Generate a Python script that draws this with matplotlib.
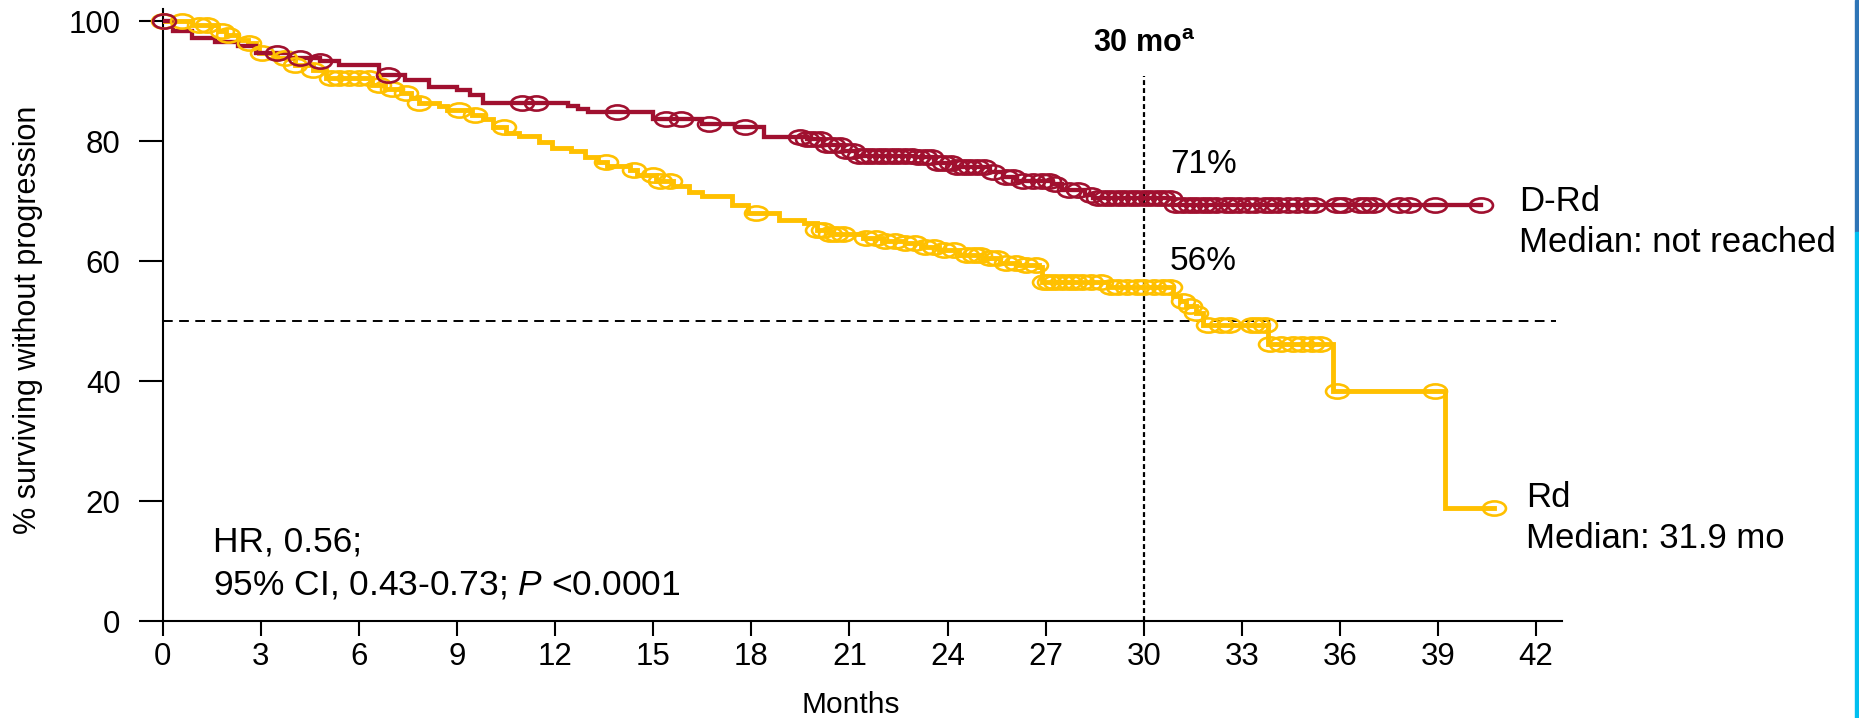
import numpy as np
import matplotlib
matplotlib.use("Agg")
import matplotlib.pyplot as plt
from matplotlib.path import Path
from matplotlib.transforms import Affine2D
from matplotlib.patches import Rectangle

plt.rcParams["font.family"] = ["Liberation Sans", "DejaVu Sans"]
plt.rcParams["mathtext.fontset"] = "custom"
plt.rcParams["mathtext.rm"] = "Liberation Sans"
plt.rcParams["mathtext.it"] = "Liberation Sans:italic"
plt.rcParams["mathtext.bf"] = "Liberation Sans:bold"

# D-Rd Kaplan-Meier steps (month of drop, survival after drop)
drd_time = [0, 0.3, 0.9, 1.6, 2.3, 2.85, 3.9, 4.8, 5.4, 6.6, 7.4, 8.15, 9.0, 9.4,
            9.8, 12.4, 12.7, 13.0, 15.0, 16.5, 17.5, 18.4, 19.7, 20.2, 20.8, 21.2,
            23.0, 23.6, 24.2, 25.3, 25.7, 26.1, 27.2, 27.5, 28.2, 28.45, 30.9]
drd_surv = [100, 98.3, 97.2, 96.5, 95.8, 94.7, 93.9, 93.3, 92.7, 91.1, 90.2, 89.1, 88.5, 87.7,
            86.3, 85.8, 85.3, 84.9, 83.7, 82.9, 82.3, 80.7, 80.3, 79.4, 78.3, 77.6,
            77.3, 76.3, 75.7, 74.9, 74.1, 73.3, 72.9, 71.9, 71.1, 70.5, 69.3]
drd_end = 40.3
drd_censor = [0.05, 3.5, 4.2, 4.8, 6.9, 11.0, 11.4, 13.9, 15.4, 15.85, 16.7, 17.8,
              19.5, 19.7, 19.9, 20.1, 20.3, 20.5, 20.7, 20.9, 21.1, 21.3, 21.5, 21.7,
              21.9, 22.1, 22.3, 22.5, 22.7, 22.9, 23.1, 23.3, 23.5, 23.7, 23.9, 24.1,
              24.3, 24.5, 24.7, 24.9, 25.1, 25.4, 25.8, 26.0, 26.3, 26.6, 26.9, 27.1,
              27.3, 27.7, 28.0, 28.4, 28.6, 28.8, 29.0, 29.2, 29.4, 29.6, 29.8, 30.0,
              30.2, 30.4, 30.6, 30.8, 31.0, 31.2, 31.4, 31.6, 31.8, 32.0, 32.2, 32.5,
              32.7, 32.9, 33.2, 33.4, 33.7, 33.9, 34.1, 34.4, 34.7, 35.0, 35.2, 35.9,
              36.1, 36.6, 36.8, 37.0, 37.8, 38.1, 38.9, 40.3]

# Rd Kaplan-Meier steps
rd_time = [0, 0.9, 1.7, 1.95, 2.3, 2.6, 2.85, 2.95, 3.5, 4.05, 4.6, 5.0, 6.4, 6.8,
           7.3, 7.6, 7.85, 8.45, 8.7, 9.45, 9.8, 10.1, 10.5, 10.9, 11.5, 11.9, 12.5,
           12.9, 13.3, 13.6, 14.3, 14.5, 15.1, 15.6, 16.1, 16.5, 17.4, 17.9, 18.85,
           19.6, 20.0, 20.4, 21.4, 22.0, 22.7, 23.2, 23.75, 24.35, 25.05, 25.6, 26.2,
           26.8, 26.9, 28.9, 30.9, 31.1, 31.3, 31.6, 31.8, 33.8, 35.8, 39.2]
rd_surv = [100, 99.3, 98.3, 97.7, 96.9, 96.3, 95.8, 94.7, 93.8, 92.7, 91.9, 90.6, 89.4, 88.7,
           88.0, 87.2, 86.3, 85.8, 85.2, 84.4, 83.7, 82.4, 81.3, 80.8, 79.9, 78.8, 78.3,
           77.4, 76.6, 75.8, 75.2, 74.4, 73.3, 72.5, 71.6, 70.8, 69.4, 68.0, 66.9,
           66.3, 65.2, 64.6, 63.8, 63.3, 63.0, 62.4, 61.9, 61.1, 60.5, 59.7, 59.4,
           59.0, 56.6, 55.7, 54.2, 53.3, 52.6, 51.3, 49.4, 46.2, 38.4, 18.8]
rd_end = 40.7
rd_censor = [0.0, 0.6, 1.1, 1.35, 1.8, 2.0, 2.65, 3.05, 3.75, 4.05, 4.6, 5.15, 5.4,
             5.7, 6.0, 6.3, 6.6, 7.0, 7.45, 7.85, 9.05, 9.55, 10.45, 13.55, 14.4, 15.0,
             15.2, 15.5, 18.15, 20.0, 20.2, 20.4, 20.6, 20.8, 21.5, 21.8, 22.1, 22.4,
             22.7, 23.0, 23.3, 23.6, 23.9, 24.2, 24.6, 24.8, 25.0, 25.3, 25.5, 25.8,
             26.1, 26.4, 26.7, 26.95, 27.1, 27.3, 27.5, 27.7, 27.9, 28.1, 28.4, 28.7,
             29.0, 29.2, 29.5, 29.8, 30.0, 30.3, 30.6, 30.8, 31.2, 31.4, 31.6, 31.95,
             32.35, 32.6, 33.3, 33.5, 33.7, 33.85, 34.2, 34.55, 34.85, 35.15, 35.4,
             35.9, 38.9, 40.7]

x_ticks = list(range(0, 43, 3))
y_ticks = list(range(0, 101, 20))

drd_color = "#A0102F"
rd_color = "#FFC000"


def censor_y(times, surv, cens):
    idx = np.searchsorted(times, cens, side="right") - 1
    return np.asarray(surv)[idx]


# slightly flattened open circle used as censor mark
ellipse = Path.unit_circle().transformed(Affine2D().scale(1, 0.62))

fig = plt.figure(figsize=(18.59, 7.18), dpi=100)
ax = fig.add_axes([0.08752, 0.13468, 0.7529, 0.85237])

for times, surv, end, cens, col, lw in [
    (rd_time, rd_surv, rd_end, rd_censor, rd_color, 3.5),
    (drd_time, drd_surv, drd_end, drd_censor, drd_color, 3.1),
]:
    ax.step(times + [end], surv + [surv[-1]], where="post", color=col, lw=lw,
            solid_joinstyle="miter", zorder=3)
    ax.plot(cens, censor_y(times, surv, cens), linestyle="none", marker=ellipse,
            markersize=16.5, markerfacecolor="none", markeredgecolor=col,
            markeredgewidth=1.9, zorder=4, clip_on=False)

# reference lines
ax.plot([0, 42.6], [50, 50], color="black", lw=1.4, linestyle=(0, (5, 3.3)), zorder=2)
ax.plot([30, 30], [0, 90.9], color="black", lw=1.6, linestyle=(0, (2.2, 1.4)), zorder=2)

ax.set_xlim(0, 42.8)
ax.set_ylim(0, 102)
ax.set_xticks(x_ticks)
ax.set_yticks(y_ticks)
ax.tick_params(axis="x", length=10.8, width=1.5, pad=4, labelsize=22.5)
ax.tick_params(axis="y", length=17.3, width=1.5, pad=13, labelsize=22.5)
for side in ["top", "right"]:
    ax.spines[side].set_visible(False)
for side in ["left", "bottom"]:
    ax.spines[side].set_linewidth(1.5)

# annotations
ax.text(30, 94.9, r"30 mo$^{\mathbf{a}}$", ha="center", va="baseline",
        fontsize=22, fontweight="bold")
ax.text(30.8, 74.7, "71%", ha="left", va="baseline", fontsize=24)
ax.text(30.8, 58.5, "56%", ha="left", va="baseline", fontsize=24)
ax.text(41.48, 68.4, "D-Rd", ha="left", va="baseline", fontsize=25)
ax.text(41.48, 61.5, "Median: not reached", ha="left", va="baseline", fontsize=25)
ax.text(41.7, 19.05, "Rd", ha="left", va="baseline", fontsize=25)
ax.text(41.7, 12.2, "Median: 31.9 mo", ha="left", va="baseline", fontsize=25)
ax.text(1.55, 11.6, "HR, 0.56;", ha="left", va="baseline", fontsize=25.5)
ax.text(1.55, 4.5, r"95% CI, 0.43-0.73; $\it{P}$ <0.0001", ha="left",
        va="baseline", fontsize=25.5)

fig.text(28 / 1859, 1 - 320 / 718, "% surviving without progression",
         rotation=90, ha="center", va="center", fontsize=22)
fig.text(851 / 1859, 1 - 713 / 718, "Months", ha="center", va="baseline", fontsize=21.5)

# slide edge strip on the right
fig.patches.append(Rectangle((1855 / 1859, 1 - 232 / 718), 4 / 1859, 232 / 718,
                             transform=fig.transFigure, color="#2E75B6", zorder=0))
fig.patches.append(Rectangle((1855 / 1859, 0), 4 / 1859, 1 - 232 / 718,
                             transform=fig.transFigure, color="#00BFF0", zorder=0))

fig.savefig("out.png", dpi=100)
